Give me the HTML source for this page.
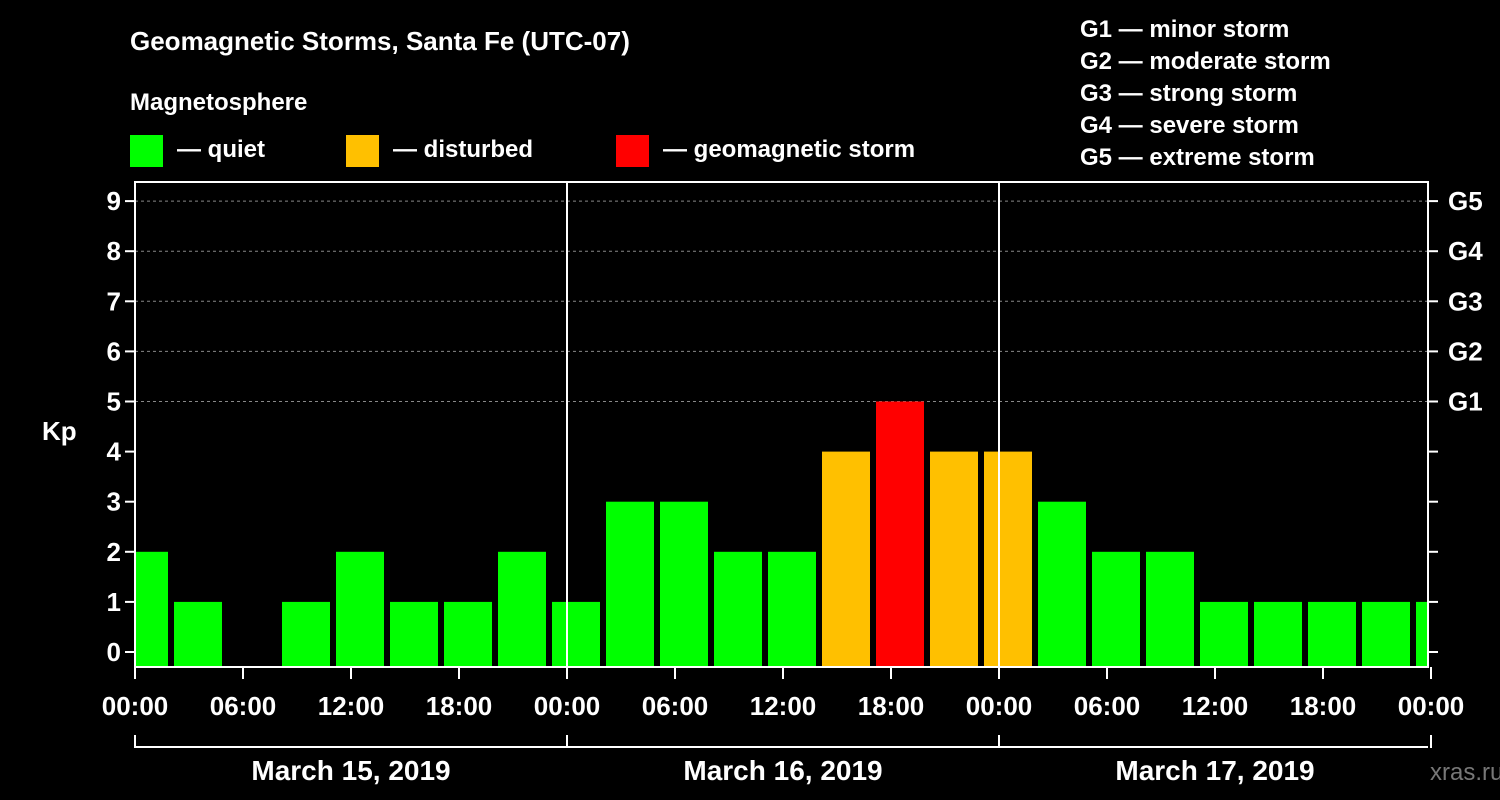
<!DOCTYPE html>
<html><head><meta charset="utf-8">
<style>
body{margin:0;background:#000;}
svg{display:block;font-family:"Liberation Sans",Arial,sans-serif;font-weight:bold;}
</style></head>
<body>
<svg id="chart" width="1500" height="800" xmlns="http://www.w3.org/2000/svg">
<rect width="1500" height="800" fill="#000"/>
<text x="130" y="50" fill="#fff" font-size="26">Geomagnetic Storms, Santa Fe (UTC-07)</text>
<text x="130" y="110" fill="#fff" font-size="24">Magnetosphere</text>
<g><rect x="130" y="135" width="33" height="32" fill="#00ff00"/><text x="177" y="157" fill="#fff" font-size="24">— quiet</text></g>
<g><rect x="346" y="135" width="33" height="32" fill="#ffc000"/><text x="393" y="157" fill="#fff" font-size="24">— disturbed</text></g>
<g><rect x="616" y="135" width="33" height="32" fill="#ff0000"/><text x="663" y="157" fill="#fff" font-size="24">— geomagnetic storm</text></g>
<g fill="#fff" font-size="24">
<text x="1080" y="37">G1 — minor storm</text>
<text x="1080" y="69">G2 — moderate storm</text>
<text x="1080" y="101">G3 — strong storm</text>
<text x="1080" y="133">G4 — severe storm</text>
<text x="1080" y="165">G5 — extreme storm</text>
</g>
<text x="42" y="440" fill="#fff" font-size="26">Kp</text>
<text x="1430" y="780" fill="#777" font-size="24" font-weight="normal">xras.ru</text>
<g id="plot"></g>
</svg>
<script>
const slotStartHours=[-1,2,5,8,11,14,17,20,23,26,29,32,35,38,41,44,47,50,53,56,59,62,65,68,71];
const kpValues=[2,1,null,1,2,1,1,2,1,3,3,2,2,4,5,4,4,3,2,2,1,1,1,1,1];
const yTicks=[0,1,2,3,4,5,6,7,8,9];
const gLabels=["G1","G2","G3","G4","G5"];
const hourTickLabels=["00:00","06:00","12:00","18:00","00:00","06:00","12:00","18:00","00:00","06:00","12:00","18:00","00:00"];
const dayLabels=["March 15, 2019","March 16, 2019","March 17, 2019"];

const NS="http://www.w3.org/2000/svg";
const X0=135,X1=1428,PT=182,PB=667;
const xs=h=>X0+h*18;
const ys=v=>652-v*50.1;
const g=document.getElementById('plot');
function mk(t,a){const e=document.createElementNS(NS,t);for(const k in a)e.setAttribute(k,a[k]);g.appendChild(e);return e;}
const clip=document.createElementNS(NS,'clipPath');clip.setAttribute('id','pc');
const cr=document.createElementNS(NS,'rect');cr.setAttribute('x',X0);cr.setAttribute('y',PT);cr.setAttribute('width',X1-X0);cr.setAttribute('height',PB-PT);
clip.appendChild(cr);g.appendChild(clip);
// grid lines
for(let v=5;v<=9;v++){
 const l=mk('line',{x1:X0,x2:X1,y1:ys(v),y2:ys(v),stroke:'#888','stroke-dasharray':'3,3','stroke-width':1});
 
 
}
// bars
slotStartHours.forEach((h,i)=>{
 const v=kpValues[i]; if(v===null||v===undefined) return;
 const c=v>=5?'#ff0000':(v>=4?'#ffc000':'#00ff00');
 const y=ys(v);
 const r=mk('rect',{x:xs(h)+3,y:y,width:48,height:PB-y,fill:c,'clip-path':'url(#pc)'});
 
 
});
// day separators
[1,2].forEach(d=>{
 const l=mk('line',{x1:xs(d*24),x2:xs(d*24),y1:PT,y2:PB,stroke:'#fff','stroke-width':2});
 
 
});
// frame
const fr=mk('rect',{x:X0,y:PT,width:X1-X0,height:PB-PT,fill:'none',stroke:'#fff','stroke-width':2});


// y ticks
yTicks.forEach(v=>{
 mk('line',{x1:X0-10,x2:X0,y1:ys(v),y2:ys(v),stroke:'#fff','stroke-width':2});
 mk('line',{x1:X1,x2:X1+10,y1:ys(v),y2:ys(v),stroke:'#fff','stroke-width':2});
 const t=mk('text',{x:X0-14,y:ys(v)+9,fill:'#fff','font-size':26,'text-anchor':'end'});
 t.textContent=v;
 
 
});
gLabels.forEach((s,i)=>{
 const t=mk('text',{x:1448,y:ys(5+i)+9,fill:'#fff','font-size':26});
 t.textContent=s;
 
 
});
// x ticks
hourTickLabels.forEach((s,i)=>{
 const x=xs(i*6);
 mk('line',{x1:x,x2:x,y1:PB,y2:PB+12,stroke:'#fff','stroke-width':2});
 const t=mk('text',{x:x,y:715,fill:'#fff','font-size':26,'text-anchor':'middle'});
 t.textContent=s;
 
 
});
// date bracket
mk('line',{x1:X0,x2:X1,y1:747,y2:747,stroke:'#fff','stroke-width':2});
[0,1,2,3].forEach(d=>mk('line',{x1:xs(d*24),x2:xs(d*24),y1:735,y2:748,stroke:'#fff','stroke-width':2}));
dayLabels.forEach((s,i)=>{
 const t=mk('text',{x:xs(i*24+12),y:780,fill:'#fff','font-size':28,'text-anchor':'middle'});
 t.textContent=s;
 
 
});
</script>
</body></html>
